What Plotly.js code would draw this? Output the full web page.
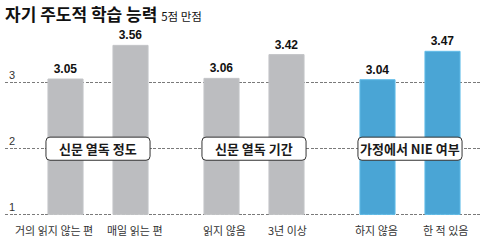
<!DOCTYPE html>
<html><head><meta charset="utf-8">
<script src="https://cdn.plot.ly/plotly-3.0.1.min.js"></script>
<style>html,body{margin:0;padding:0;background:#fff;}#chart{width:480px;height:242px;}</style>
</head><body><div id="chart"></div>
<script>
const titleText = '자기 주도적 학습 능력';
const subtitleText = '5점 만점';
const groups = ['신문 열독 정도', '신문 열독 기간', '가정에서 NIE 여부'];
const categories = ['거의 읽지 않는 편', '매일 읽는 편', '읽지 않음', '3년 이상', '하지 않음', '한 적 있음'];
const values = [3.05, 3.56, 3.06, 3.42, 3.04, 3.47];
const groupOf = [0, 0, 1, 1, 2, 2];
const yTicks = [1, 2, 3];
const baseValue = 1;

const groupColors = ['#bcbdc0', '#bcbdc0', '#4aa5d5'];
const groupEdge = ['#c4c5c8', '#c4c5c8', '#62bde9'];
const labelShift = [-12, 4, 3, 1, -1, 3];
const groupStep = 2.4;
const barW = 0.54;
const xs = categories.map((c, i) => groupOf[i] * groupStep + (i % 2));

const FONT = '"Noto Sans CJK KR", "Noto Sans", sans-serif';
const NUMFONT = '"Liberation Sans Narrow", "Liberation Sans", Arial, sans-serif';

const trace = {
  type: 'bar',
  x: xs,
  base: baseValue,
  y: values.map(v => v - baseValue),
  width: barW,
  marker: {
    color: categories.map((c, i) => groupColors[groupOf[i]]),
    line: {color: categories.map((c, i) => groupEdge[groupOf[i]]), width: 1}
  },
  text: values.map(v => v.toFixed(2)),
  textposition: 'outside',
  textfont: {family: NUMFONT, size: 12, color: '#111', weight: 'bold'},
  cliponaxis: false,
  hoverinfo: 'none'
};

function rrect(x0, x1, y0, y1, rx, ry) {
  return `M${x0+rx},${y0} L${x1-rx},${y0} Q${x1},${y0} ${x1},${y0+ry} L${x1},${y1-ry} Q${x1},${y1} ${x1-rx},${y1} L${x0+rx},${y1} Q${x0},${y1} ${x0},${y1-ry} L${x0},${y0+ry} Q${x0},${y0} ${x0+rx},${y0} Z`;
}

const shapes = [];
const annotations = [];
groups.forEach((g, gi) => {
  const gx = xs.filter((x, i) => groupOf[i] === gi);
  const x0 = Math.min(...gx) - barW / 2 - 2 / 65;
  const x1 = Math.max(...gx) + barW / 2 + 2 / 65;
  shapes.push({type: 'path', xref: 'x', yref: 'y', layer: 'above',
    path: rrect(x0, x1, 1.82, 2.17, 4 / 65, 4 / 66),
    fillcolor: '#ffffff', line: {color: '#333', width: 1}});
  annotations.push({xref: 'x', yref: 'y', x: (x0 + x1) / 2, y: 1.995, text: g, showarrow: false,
    font: {family: FONT, size: 13, color: '#1a1a1a', weight: 'bold'}});
});
categories.forEach((c, i) => {
  annotations.push({xref: 'x', yref: 'paper', x: xs[i], y: 0, yanchor: 'top', xanchor: 'center',
    xshift: labelShift[i], yshift: 1, text: c, showarrow: false,
    font: {family: FONT, size: 11, color: '#333'}});
});

const layout = {
  width: 480, height: 242,
  margin: {l: 5, r: 0, t: 41, b: 21},
  paper_bgcolor: '#fff', plot_bgcolor: '#fff',
  showlegend: false,
  title: {
    text: '<b>' + titleText + '</b> <span style="font-size:11.5px;font-weight:normal">' + subtitleText + '</span>',
    x: 5 / 480, xref: 'container', xanchor: 'left',
    y: 1 - 15 / 242, yref: 'container', yanchor: 'middle',
    font: {family: FONT, size: 17, color: '#111'}
  },
  xaxis: {
    range: [-0.931, 6.377], autorange: false, automargin: false,
    showticklabels: false,
    showgrid: false, zeroline: false, ticks: '', showline: false
  },
  yaxis: {
    range: [0.9, 3.626], autorange: false, automargin: false,
    tickvals: yTicks, ticktext: yTicks.map(String),
    showgrid: true, gridcolor: '#7a7a7a', griddash: '3px,1.5px', gridwidth: 1,
    zeroline: false, ticks: '', showline: false,
    ticklabelposition: 'inside', ticklabelshift: -7, ticklabelstandoff: 1,
    tickfont: {family: NUMFONT, size: 11, color: '#333'}
  },
  shapes: shapes,
  annotations: annotations
};

Plotly.newPlot('chart', [trace], layout, {staticPlot: true, displayModeBar: false});
</script></body></html>
